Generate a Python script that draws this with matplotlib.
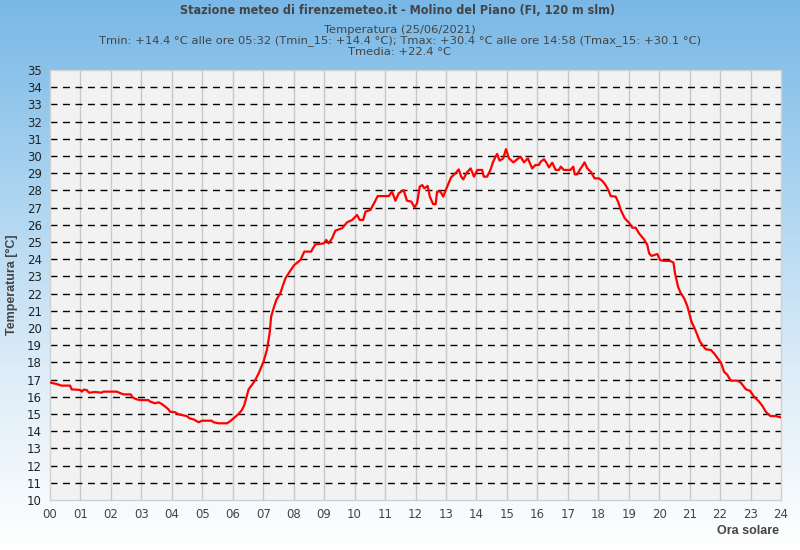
import numpy as np
import matplotlib
matplotlib.use("Agg")
import matplotlib.pyplot as plt
from matplotlib import font_manager
from matplotlib.colors import LinearSegmentedColormap

# --- data (hours, temperature °C) ---
hours = [0.00, 0.03, 0.22, 0.38, 0.66, 0.71, 0.99, 1.05, 1.10, 1.20, 1.28, 1.48, 1.70, 1.75,
         2.19, 2.30, 2.41, 2.65, 2.72, 2.85, 2.96, 3.23, 3.29, 3.45, 3.56, 3.67, 3.78, 3.89,
         3.94, 4.11, 4.22, 4.49, 4.58, 4.71, 4.88, 4.99, 5.31, 5.37, 5.53, 5.81, 5.92, 6.03,
         6.19, 6.30, 6.38, 6.47, 6.52, 6.63, 6.74, 6.85, 7.01, 7.12, 7.21, 7.26, 7.34, 7.43,
         7.56, 7.73, 7.89, 8.02, 8.22, 8.35, 8.57, 8.71, 8.99, 9.07, 9.15, 9.26, 9.37, 9.59,
         9.75, 9.92, 10.08, 10.17, 10.28, 10.36, 10.52, 10.65, 10.76, 11.12, 11.23, 11.34,
         11.45, 11.61, 11.72, 11.86, 11.97, 12.05, 12.14, 12.22, 12.29, 12.40, 12.47, 12.58,
         12.66, 12.71, 12.82, 12.91, 13.04, 13.17, 13.31, 13.42, 13.50, 13.57, 13.68, 13.81,
         13.92, 14.03, 14.19, 14.24, 14.35, 14.46, 14.55, 14.63, 14.68, 14.76, 14.88, 14.97,
         15.07, 15.21, 15.34, 15.45, 15.56, 15.69, 15.83, 15.94, 16.05, 16.11, 16.22, 16.31,
         16.38, 16.49, 16.60, 16.71, 16.77, 16.87, 17.09, 17.18, 17.23, 17.31, 17.40, 17.48,
         17.55, 17.64, 17.75, 17.88, 18.02, 18.13, 18.24, 18.33, 18.41, 18.57, 18.65, 18.74,
         18.87, 19.01, 19.12, 19.23, 19.34, 19.50, 19.61, 19.67, 19.75, 19.94, 20.03, 20.16,
         20.36, 20.47, 20.52, 20.62, 20.71, 20.82, 20.93, 21.06, 21.18, 21.34, 21.53, 21.70,
         21.80, 21.92, 22.03, 22.13, 22.24, 22.35, 22.57, 22.68, 22.85, 22.98, 23.12, 23.28,
         23.39, 23.50, 23.65, 23.83, 23.97]
temps = [16.85, 16.82, 16.74, 16.65, 16.65, 16.43, 16.40, 16.30, 16.41, 16.40, 16.24, 16.28,
         16.24, 16.30, 16.30, 16.22, 16.14, 16.14, 15.95, 15.85, 15.81, 15.81, 15.72, 15.62,
         15.68, 15.58, 15.43, 15.27, 15.13, 15.10, 14.98, 14.88, 14.75, 14.69, 14.52, 14.61,
         14.61, 14.52, 14.46, 14.46, 14.59, 14.75, 15.00, 15.23, 15.52, 16.10, 16.43, 16.69,
         16.98, 17.36, 18.04, 18.72, 19.69, 20.66, 21.14, 21.63, 22.02, 22.89, 23.33, 23.66,
         23.95, 24.44, 24.44, 24.86, 24.92, 25.12, 24.92, 25.21, 25.66, 25.80, 26.14, 26.28,
         26.57, 26.28, 26.28, 26.77, 26.86, 27.29, 27.67, 27.67, 27.93, 27.40, 27.83, 28.02,
         27.40, 27.35, 27.01, 27.25, 28.22, 28.31, 28.12, 28.26, 27.64, 27.20, 27.20, 27.93,
         27.93, 27.64, 28.22, 28.76, 28.99, 29.22, 28.80, 28.64, 29.03, 29.28, 28.80, 29.19,
         29.19, 28.80, 28.80, 29.19, 29.67, 29.96, 30.12, 29.73, 29.86, 30.40, 29.86, 29.63,
         29.81, 29.96, 29.63, 29.86, 29.28, 29.48, 29.48, 29.67, 29.81, 29.58, 29.34, 29.61,
         29.19, 29.19, 29.38, 29.19, 29.19, 29.38, 28.93, 28.93, 29.22, 29.42, 29.63, 29.28,
         29.09, 28.70, 28.70, 28.56, 28.31, 28.02, 27.67, 27.64, 27.35, 26.86, 26.38, 26.12,
         25.83, 25.83, 25.50, 25.16, 24.83, 24.34, 24.19, 24.30, 23.95, 23.90, 23.90, 23.80,
         23.18, 22.40, 22.02, 21.73, 21.24, 20.37, 19.92, 19.20, 18.76, 18.72, 18.53, 18.24,
         17.98, 17.46, 17.27, 16.94, 16.94, 16.82, 16.43, 16.35, 16.00, 15.72, 15.47, 15.13,
         14.88, 14.88, 14.81]

x_ticks = list(range(0, 25))
x_labels = [f"{h:02d}" for h in x_ticks]
y_ticks = list(range(10, 36))

title = "Stazione meteo di firenzemeteo.it - Molino del Piano (FI, 120 m slm)"
sub_lines = ["Temperatura (25/06/2021)",
             "Tmin: +14.4 °C alle ore 05:32 (Tmin_15: +14.4 °C); Tmax: +30.4 °C alle ore 14:58 (Tmax_15: +30.1 °C)",
             "Tmedia: +22.4 °C"]

# choose a narrow bold font for the title if one is installed
names = {f.name for f in font_manager.fontManager.ttflist}
cond = [f for f in font_manager.fontManager.ttflist
        if f.name == "DejaVu Sans" and "ondensed" in str(f.stretch) + f.fname]
if "Liberation Sans Narrow" in names:
    title_kw = dict(family=["Liberation Sans Narrow", "DejaVu Sans"], fontsize=10)
elif cond:
    title_kw = dict(family=["DejaVu Sans"], fontstretch="condensed", fontsize=9)
else:
    title_kw = dict(family=["Liberation Sans", "DejaVu Sans"], fontsize=8.2)

fig = plt.figure(figsize=(8, 5.5), dpi=100)

# background gradient
bg = fig.add_axes([0, 0, 1, 1], zorder=-10)
cmap = LinearSegmentedColormap.from_list("bg", ["#79b8e6", "#a9d3f0", "#dcecf8", "#ffffff"])
grad = np.linspace(0, 1, 256).reshape(-1, 1)
bg.imshow(grad, aspect="auto", cmap=cmap, extent=[0, 1, 0, 1], origin="upper")
bg.axis("off")

ax = fig.add_axes([50 / 800, 1 - 500 / 550, 731 / 800, 430 / 550])
ax.set_facecolor("#f2f2f2")
ax.plot(hours, temps, color="#ff0000", lw=1.6, zorder=5)

ax.set_xlim(0, 24)
ax.set_ylim(10, 35)
ax.set_xticks(x_ticks)
ax.set_xticklabels(x_labels)
ax.set_yticks(y_ticks)
ax.tick_params(axis="both", length=0)
ax.tick_params(axis="x", labelsize=8.5, colors="#444444", pad=6)
ax.tick_params(axis="y", labelsize=8.5, colors="#222222", pad=6)

for y in y_ticks[1:-1]:
    ax.axhline(y, color="black", lw=1.0, ls=(0, (5, 4)), zorder=2)
for x in x_ticks[1:-1]:
    ax.axvline(x, color="#c8c8c8", lw=1.0, zorder=1)
for s in ax.spines.values():
    s.set_color("#d0d0d0")
    s.set_linewidth(1.0)

fig.text(0.4975, 1 - 10 / 550, title, ha="center", va="center",
         fontweight="bold", color="#444444", **title_kw)
for i, line in enumerate(sub_lines):
    fig.text(0.5, 1 - (30 + 11 * i) / 550, line, ha="center", va="center",
             fontsize=8.25, color="#444444")
lab = ["Liberation Sans", "DejaVu Sans"]
fig.text(12 / 800, 1 - 285 / 550, "Temperatura [°C]", rotation=90, ha="center", va="center",
         fontsize=9, fontweight="bold", color="#444444", family=lab)
fig.text(779 / 800, 1 - 531 / 550, "Ora solare", ha="right", va="center",
         fontsize=9, fontweight="bold", color="#444444", family=lab)

fig.savefig("out.png", dpi=100)
